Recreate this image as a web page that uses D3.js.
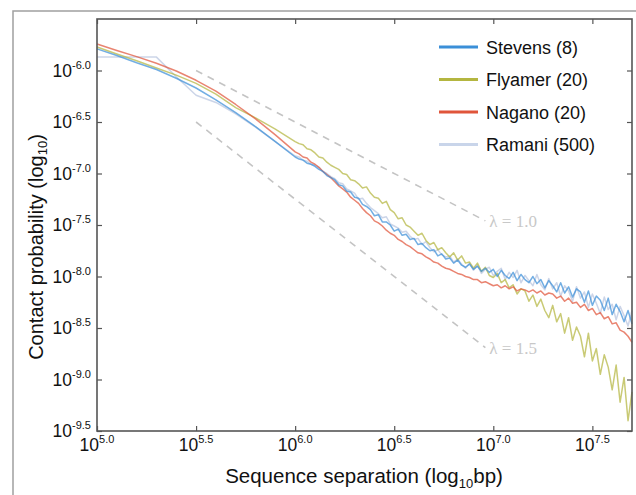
<!DOCTYPE html>
<html>
<head>
<meta charset="utf-8">
<script src="https://cdn.jsdelivr.net/npm/d3@7"></script>
<style>
    body { margin: 0; background: #fff; }
    svg { display: block; font-family: "Liberation Sans", Arial, sans-serif; }
</style>
</head>
<body>
<div id="chart"></div>
<script>
// --- DATA (log10 values) ---
const sepLog = [
    5.0, 5.1, 5.2, 5.3, 5.4, 5.5, 5.6, 5.7, 5.8, 5.9,
    6.00, 6.02, 6.04, 6.06, 6.08, 6.10, 6.12, 6.14, 6.16, 6.18,
    6.20, 6.22, 6.24, 6.26, 6.28, 6.30, 6.32, 6.34, 6.36, 6.38,
    6.40, 6.42, 6.44, 6.46, 6.48, 6.50, 6.52, 6.54, 6.56, 6.58,
    6.60, 6.62, 6.64, 6.66, 6.68, 6.70, 6.72, 6.74, 6.76, 6.78,
    6.80, 6.82, 6.84, 6.86, 6.88, 6.90, 6.92, 6.94, 6.96, 6.98,
    7.00, 7.02, 7.04, 7.06, 7.08, 7.10, 7.12, 7.14, 7.16, 7.18,
    7.20, 7.22, 7.24, 7.26, 7.28, 7.30, 7.32, 7.34, 7.36, 7.38,
    7.40, 7.42, 7.44, 7.46, 7.48, 7.50, 7.52, 7.54, 7.56, 7.58,
    7.60, 7.62, 7.64, 7.66, 7.68, 7.70
];

const stevens = [
    -5.79, -5.855, -5.925, -5.99, -6.075, -6.17, -6.285, -6.41, -6.545, -6.69,
    -6.84, -6.86, -6.87, -6.90, -6.91, -6.93, -6.96, -6.98, -7.02, -7.04,
    -7.06, -7.11, -7.12, -7.17, -7.18, -7.23, -7.24, -7.30, -7.32, -7.35,
    -7.41, -7.40, -7.47, -7.47, -7.50, -7.56, -7.54, -7.60, -7.59, -7.64,
    -7.63, -7.69, -7.68, -7.72, -7.75, -7.74, -7.80, -7.78, -7.83, -7.82,
    -7.87, -7.84, -7.89, -7.91, -7.88, -7.93, -7.90, -7.95, -7.92, -7.96,
    -7.93, -8.00, -7.94, -7.99, -8.02, -7.96, -8.04, -7.98, -8.03, -8.06,
    -8.00, -8.07, -8.03, -8.11, -8.04, -8.09, -8.15, -8.06, -8.16, -8.10,
    -8.20, -8.12, -8.15, -8.25, -8.14, -8.28, -8.19, -8.23, -8.33, -8.21,
    -8.37, -8.27, -8.34, -8.44, -8.33, -8.46
];

const flyamer = [
    -5.772, -5.84, -5.905, -5.975, -6.045, -6.125, -6.23, -6.36, -6.46, -6.57,
    -6.69, -6.71, -6.72, -6.76, -6.77, -6.80, -6.84, -6.85, -6.89, -6.92,
    -6.94, -6.96, -7.00, -7.01, -7.06, -7.07, -7.10, -7.14, -7.13, -7.19,
    -7.23, -7.24, -7.29, -7.27, -7.35, -7.38, -7.44, -7.43, -7.50, -7.52,
    -7.56, -7.60, -7.58, -7.65, -7.69, -7.67, -7.74, -7.72, -7.77, -7.81,
    -7.77, -7.84, -7.80, -7.87, -7.86, -7.92, -7.87, -7.95, -7.91, -7.99,
    -8.01, -7.97, -8.06, -8.03, -8.11, -8.08, -8.17, -8.12, -8.14, -8.24,
    -8.18, -8.29, -8.22, -8.33, -8.40, -8.28, -8.44, -8.36, -8.55, -8.40,
    -8.62, -8.49, -8.58, -8.78, -8.55, -8.82, -8.70, -8.95, -8.76, -8.88,
    -9.10, -8.86, -9.22, -8.98, -9.40, -9.12
];

const nagano = [
    -5.743, -5.805, -5.865, -5.93, -6.005, -6.095, -6.20, -6.33, -6.47, -6.625,
    -6.79, -6.81, -6.84, -6.85, -6.89, -6.91, -6.94, -6.98, -7.01, -7.04,
    -7.08, -7.12, -7.15, -7.18, -7.23, -7.26, -7.29, -7.34, -7.38, -7.41,
    -7.46, -7.48, -7.51, -7.55, -7.58, -7.60, -7.64, -7.66, -7.69, -7.71,
    -7.74, -7.77, -7.78, -7.81, -7.83, -7.86, -7.87, -7.90, -7.92, -7.93,
    -7.95, -7.97, -7.98, -8.00, -8.01, -8.03, -8.03, -8.06, -8.05, -8.07,
    -8.09, -8.08, -8.11, -8.09, -8.12, -8.10, -8.14, -8.12, -8.13, -8.15,
    -8.13, -8.16, -8.14, -8.18, -8.16, -8.17, -8.21, -8.19, -8.24, -8.21,
    -8.26, -8.25, -8.30, -8.27, -8.33, -8.31, -8.37, -8.35, -8.41, -8.39,
    -8.46, -8.45, -8.52, -8.54, -8.58, -8.64
];

const ramani = [
    -5.87, -5.87, -5.87, -5.87, -6.06, -6.24, -6.31, -6.42, -6.55, -6.69,
    -6.83, -6.84, -6.87, -6.88, -6.91, -6.92, -6.94, -6.98, -7.00, -7.03,
    -7.05, -7.09, -7.10, -7.15, -7.17, -7.19, -7.25, -7.24, -7.29, -7.33,
    -7.36, -7.39, -7.43, -7.42, -7.49, -7.51, -7.53, -7.57, -7.56, -7.61,
    -7.64, -7.63, -7.69, -7.66, -7.72, -7.76, -7.74, -7.79, -7.81, -7.80,
    -7.86, -7.83, -7.88, -7.92, -7.87, -7.94, -7.89, -7.97, -7.93, -7.91,
    -7.99, -7.95, -7.92, -8.03, -7.96, -8.01, -7.94, -8.06, -7.99, -8.04,
    -8.09, -7.98, -8.08, -8.13, -8.02, -8.12, -8.06, -8.19, -8.09, -8.14,
    -8.24, -8.10, -8.21, -8.15, -8.30, -8.17, -8.26, -8.36, -8.20, -8.32,
    -8.27, -8.42, -8.29, -8.38, -8.48, -8.33
];

const seriesNames = ["Stevens (8)", "Flyamer (20)", "Nagano (20)", "Ramani (500)"];
const seriesValues = [stevens, flyamer, nagano, ramani];
const xTicks = [5.0, 5.5, 6.0, 6.5, 7.0, 7.5];
const yTicks = [-9.5, -9.0, -8.5, -8.0, -7.5, -7.0, -6.5, -6.0];

// guide lines: exponent, start log y at the first x, x span
const guideSlopes = [1.0, 1.5];
const guideStartY = [-6.0, -6.5];
const guideX = [5.5, 6.96];

document.addEventListener('DOMContentLoaded', () => {
    const width = 636, height = 495;
    const plot = { left: 97, top: 19, right: 632, bottom: 431 };

    const svg = d3.select("#chart").append("svg").attr("width", width).attr("height", height);

    const colors = ["#3b8fd8", "#b4b640", "#e0553a", "#b9c5df"];
    const legendColors = ["#3b8fd8", "#b4b640", "#e0553a", "#c9d5ea"];

    const x = d3.scaleLinear().domain([5.0, 7.7]).range([plot.left, plot.right]);
    const y = d3.scaleLinear().domain([-9.5, -5.5]).range([plot.bottom, plot.top]);

    // --- OUTER FRAME ---
    svg.append("rect").attr("x", 13).attr("y", 11).attr("width", 700).attr("height", 600)
        .attr("fill", "none").attr("stroke", "#a0a0a0").attr("stroke-width", 1.5);

    // --- GUIDE LINES ---
    const guides = svg.append("g");
    guideSlopes.forEach((s, i) => {
        const y0 = guideStartY[i];
        const y1 = y0 - s * (guideX[1] - guideX[0]);
        guides.append("line")
            .attr("x1", x(guideX[0])).attr("y1", y(y0))
            .attr("x2", x(guideX[1])).attr("y2", y(y1))
            .attr("stroke", "#c4c4c4").attr("stroke-width", 1.6).attr("stroke-dasharray", "7,6");
        guides.append("text")
            .attr("x", x(guideX[1]) + 4).attr("y", y(y1) + 6)
            .style("font-family", "'Liberation Serif', 'DejaVu Serif', serif")
            .style("font-size", "17px").style("fill", "#c8c8c8")
            .text(`λ = ${s.toFixed(1)}`);
    });

    // --- DATA LINES ---
    const line = d3.line().x((d, i) => x(sepLog[i])).y(d => y(d));
    const drawOrder = [3, 1, 2, 0];
    const lines = svg.append("g");
    drawOrder.forEach(k => {
        lines.append("path").datum(seriesValues[k]).attr("d", line)
            .attr("fill", "none").attr("stroke", colors[k])
            .attr("stroke-width", 1.5).attr("stroke-opacity", 0.72)
            .attr("stroke-linejoin", "round");
    });

    // --- AXES (inward ticks on all sides) ---
    const tickStyle = g => {
        g.select(".domain").remove();
        g.selectAll(".tick line").attr("stroke", "#555").attr("stroke-width", 1.2);
    };
    svg.append("g").attr("transform", `translate(0,${plot.bottom})`)
        .call(d3.axisBottom(x).tickValues(xTicks).tickSize(-5).tickFormat("")).call(tickStyle);
    svg.append("g").attr("transform", `translate(0,${plot.top})`)
        .call(d3.axisTop(x).tickValues(xTicks).tickSize(-5).tickFormat("")).call(tickStyle);
    svg.append("g").attr("transform", `translate(${plot.left},0)`)
        .call(d3.axisLeft(y).tickValues(yTicks).tickSize(-5).tickFormat("")).call(tickStyle);
    svg.append("g").attr("transform", `translate(${plot.right},0)`)
        .call(d3.axisRight(y).tickValues(yTicks).tickSize(-5).tickFormat("")).call(tickStyle);

    svg.append("rect").attr("x", plot.left).attr("y", plot.top)
        .attr("width", plot.right - plot.left).attr("height", plot.bottom - plot.top)
        .attr("fill", "none").attr("stroke", "#555").attr("stroke-width", 1.6);

    // tick labels as 10^v
    function powLabel(sel, v) {
        sel.append("tspan").style("font-size", "17.5px").text("10");
        sel.append("tspan").style("font-size", "11px").attr("dy", -8).text(v.toFixed(1));
    }
    const labels = svg.append("g").style("fill", "#111");
    xTicks.forEach(v => {
        labels.append("text").attr("x", x(v)).attr("y", 451).attr("text-anchor", "middle")
            .call(powLabel, v);
    });
    yTicks.forEach(v => {
        labels.append("text").attr("x", 91).attr("y", y(v) + 6).attr("text-anchor", "end")
            .call(powLabel, v);
    });

    // --- AXIS TITLES ---
    const xt = svg.append("text").attr("x", 364).attr("y", 483).attr("text-anchor", "middle")
        .style("font-size", "20.5px").style("fill", "#111");
    xt.append("tspan").text("Sequence separation (log");
    xt.append("tspan").style("font-size", "13px").attr("dy", 5).text("10");
    xt.append("tspan").attr("dy", -5).text("bp)");

    const yt = svg.append("text").attr("transform", "translate(43,247) rotate(-90)")
        .attr("text-anchor", "middle").style("font-size", "20px").style("fill", "#111");
    yt.append("tspan").text("Contact probability (log");
    yt.append("tspan").style("font-size", "13px").attr("dy", 4).text("10");
    yt.append("tspan").attr("dy", -4).text(")");

    // --- LEGEND ---
    const legend = svg.append("g").attr("transform", "translate(439,47)");
    const items = legend.selectAll("g").data(seriesNames).join("g")
        .attr("transform", (d, i) => `translate(0,${i * 32.5})`);
    items.append("line").attr("x1", 0).attr("x2", 39).attr("y1", 0).attr("y2", 0)
        .attr("stroke", (d, i) => legendColors[i]).attr("stroke-width", 3.2);
    items.append("text").attr("x", 47).attr("y", 6.5)
        .style("font-size", "18px").style("fill", "#111").text(d => d);
});
</script>
</body>
</html>
